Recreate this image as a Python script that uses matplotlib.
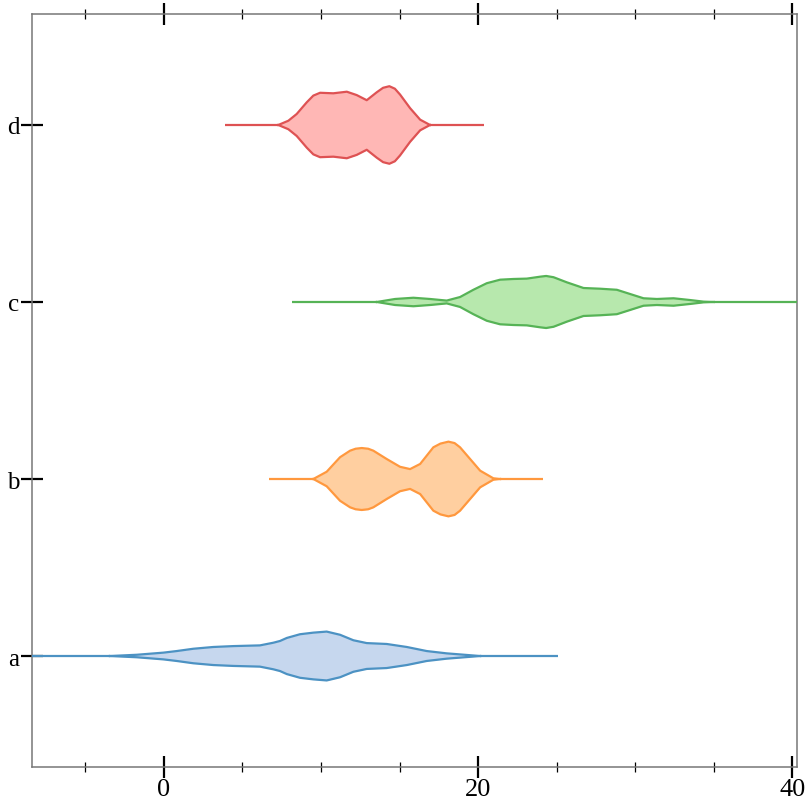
import matplotlib
matplotlib.use("Agg")
import matplotlib.pyplot as plt
from matplotlib.ticker import MultipleLocator
import numpy as np

categories = ['a', 'b', 'c', 'd']

# violin outline profiles: x positions and half-widths (category units)
a_x = [-3.44, -1.74, -0.04, 0.81, 1.87, 3.14, 4.41, 6.11, 6.96, 7.39, 7.82, 8.66, 9.51, 10.36,
       11.21, 12.06, 12.91, 14.18, 15.46, 16.73, 18.0, 19.28, 20.13]
a_hw = [0, .007, .019, .028, .041, .051, .056, .060, .075, .085, .102, .123, .132, .138,
        .120, .089, .073, .068, .051, .028, .015, .006, 0]
a_range = [-9.5, 25.1]

b_x = [9.51, 10.36, 11.21, 11.85, 12.2, 12.59, 13.0, 13.33, 14.18, 15.03, 15.67, 16.31, 17.15,
       17.6, 18.11, 18.5, 18.85, 19.49, 20.13, 20.97, 21.4]
b_hw = [0, .041, .123, .160, .171, .175, .171, .160, .113, .069, .056, .085, .179,
        .200, .211, .203, .179, .113, .047, .004, 0]
b_range = [6.7, 24.1]

c_x = [13.55, 14.71, 15.88, 16.94, 18.0, 18.85, 19.70, 20.55, 21.40, 22.25, 23.10, 23.95,
       24.33, 24.80, 25.65, 26.71, 27.77, 28.83, 29.68, 30.53, 31.38, 32.44, 33.50, 34.35, 34.99]
c_hw = [0, .017, .024, .017, .008, .028, .069, .106, .126, .130, .132, .143,
        .147, .140, .111, .079, .075, .069, .045, .021, .017, .021, .011, .002, 0]
c_range = [8.15, 41.5]

d_x = [7.28, 7.92, 8.45, 9.09, 9.51, 9.94, 10.78, 11.64, 12.27, 12.91, 13.55, 13.95, 14.35,
       14.7, 15.03, 15.67, 16.31, 16.94]
d_hw = [0, .024, .062, .128, .166, .182, .179, .188, .169, .140, .185, .210, .219,
        .205, .172, .095, .030, 0]
d_range = [3.89, 20.38]

line_colors = ['#4c92c3', '#ff983e', '#56b356', '#de5253']
fill_colors = ['#c6d7ee', '#ffcfa0', '#b7e8ad', '#ffb7b5']

xs = [a_x, b_x, c_x, d_x]
hws = [a_hw, b_hw, c_hw, d_hw]
ranges = [a_range, b_range, c_range, d_range]

plt.rcParams['font.family'] = ['Liberation Serif', 'DejaVu Serif']

fig = plt.figure(figsize=(8.12, 8.12), dpi=100)
ax = fig.add_axes([32/812, 1-768/812, (797-32)/812, (768-15)/812])

for i, cat in enumerate(categories):
    x = np.array(xs[i]); hw = np.array(hws[i])
    y0 = i
    lc = line_colors[i]
    ax.fill_between(x, y0 - hw, y0 + hw, color=fill_colors[i], lw=0, zorder=2)
    # whisker lines outside the body
    ax.plot([ranges[i][0], x[0]], [y0, y0], color=lc, lw=1.6, zorder=3, solid_capstyle='butt')
    ax.plot([x[-1], ranges[i][1]], [y0, y0], color=lc, lw=1.6, zorder=3, solid_capstyle='butt')
    ax.plot(x, y0 + hw, color=lc, lw=1.6, zorder=3, solid_joinstyle='round')
    ax.plot(x, y0 - hw, color=lc, lw=1.6, zorder=3, solid_joinstyle='round')

ax.set_xlim(-8.4, 40.3)
ax.set_ylim(-0.627, 3.627)
ax.set_yticks(range(len(categories)))
ax.set_yticklabels(categories)
ax.xaxis.set_major_locator(MultipleLocator(20))
ax.xaxis.set_minor_locator(MultipleLocator(5))

for s in ax.spines.values():
    s.set_color('#777777')
    s.set_linewidth(1.1)

ax.tick_params(axis='x', which='major', direction='inout', length=16, width=1.6,
               color='black', top=True, labeltop=False, labelsize=19, pad=0)
ax.tick_params(axis='x', which='minor', direction='inout', length=7.5, width=0.9,
               color='black', top=True)
ax.tick_params(axis='y', which='major', direction='inout', length=16, width=1.6,
               color='black', labelsize=18, pad=1)

fig.savefig('out.png', dpi=100)
